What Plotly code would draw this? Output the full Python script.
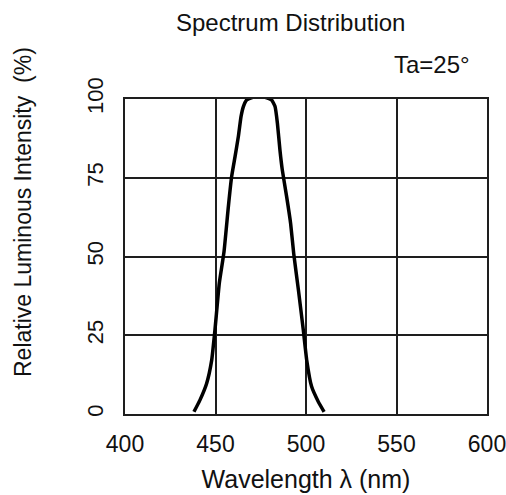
import plotly.graph_objects as go

wavelength = [438.1, 441.4, 445.1, 447.9, 449.7, 452.1, 454.7, 457.1, 458.9, 460.8, 462.6, 464.1, 465.4, 467.2,
              469.8, 474.0, 478.3, 481.0, 482.9, 484.2, 485.6, 486.9, 489.3, 491.5, 493.2, 495.8, 498.5, 500.4,
              503.1, 506.8, 510.0]
intensity = [0.7, 4.4, 9.7, 17.1, 26.7, 41.5, 51.5, 65.8, 75.3, 81.7, 88.0, 94.4, 97.6, 99.7,
             100.4, 100.8, 100.4, 99.7, 97.6, 92.3, 83.8, 77.5, 69.0, 60.5, 51.0, 39.4, 26.7, 17.1,
             8.7, 3.9, 0.7]

x_ticks = [400, 450, 500, 550, 600]
y_ticks = [0, 25, 50, 75, 100]

FONT = "Liberation Sans, Arial, sans-serif"
DARK = "#111111"
GRID = "#1e1e1e"

fig = go.Figure()
fig.add_trace(go.Scatter(
    x=wavelength, y=intensity, mode="lines",
    line=dict(color="black", width=3.5, shape="spline", smoothing=0.4),
    showlegend=False, hoverinfo="skip",
))

# plot area in page px: x 125..487, y 99..414
W, H = 506, 495
L, R, T, B = 125, 19, 99, 81
pw, ph = W - L - R, H - T - B

fig.update_layout(
    template="none",
    width=W, height=H,
    margin=dict(l=L, r=R, t=T, b=B, autoexpand=False),
    paper_bgcolor="white", plot_bgcolor="white",
    font=dict(family=FONT, color=DARK, size=22),
    hovermode=False,
    xaxis=dict(
        automargin=False, ticklabeloverflow="allow",
        range=[400, 600], tickvals=x_ticks, ticktext=[str(v) for v in x_ticks],
        showgrid=True, gridcolor=GRID, gridwidth=2,
        showline=True, linecolor=GRID, linewidth=2, mirror=True,
        zeroline=False, ticks="", tickfont=dict(size=23, family=FONT, color=DARK),
        ticklabelstandoff=8,
        title=dict(text="Wavelength λ (nm)", font=dict(size=25, family=FONT, color=DARK), standoff=15),
    ),
    yaxis=dict(
        automargin=False,
        range=[0, 100], tickvals=y_ticks, ticktext=[str(v) for v in y_ticks],
        showgrid=True, gridcolor=GRID, gridwidth=2,
        showline=True, linecolor=GRID, linewidth=2, mirror=True,
        zeroline=False, ticks="", tickangle=-90,
        tickfont=dict(size=22, family=FONT, color=DARK),
        ticklabelstandoff=11,
    ),
    annotations=[
        dict(text="Spectrum Distribution", xref="paper", yref="paper",
             x=(290 - L) / pw, y=(H - B - 22) / ph, yanchor="middle", xanchor="center",
             showarrow=False, font=dict(size=24, family=FONT, color=DARK)),
        dict(text="Ta=25°", xref="paper", yref="paper",
             x=(432 - L) / pw, y=(H - B - 65) / ph, yanchor="middle", xanchor="center",
             showarrow=False, font=dict(size=24, family=FONT, color=DARK)),
        dict(text="Relative Luminous Intensity  (%)", xref="paper", yref="paper",
             x=(23 - L) / pw, y=(H - B - 212) / ph, yanchor="middle", xanchor="center",
             textangle=-90, showarrow=False, font=dict(size=23, family=FONT, color=DARK)),
    ],
)

fig.write_html(
    "out.html",
    config={"displayModeBar": False, "staticPlot": True},
    post_script="document.body.style.margin='0';document.body.style.overflow='hidden';",
)
